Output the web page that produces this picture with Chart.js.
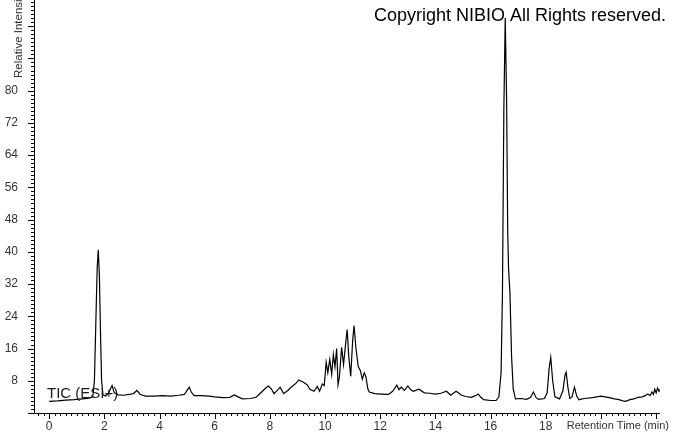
<!DOCTYPE html>
<html>
<head>
<meta charset="utf-8">
<script src="https://cdn.jsdelivr.net/npm/chart.js@4"></script>
<style>
    body { margin: 0; background: #fff; }
</style>
</head>
<body>
<canvas id="ticChart" width="673" height="433"></canvas>
<script>
// Retention time (min) and relative intensity
const retentionTimes = [
    0.0, 0.3, 0.6, 0.9, 1.2, 1.45, 1.58, 1.64, 1.69, 1.74, 1.78, 1.82, 1.86, 1.9, 1.95,
    2.05, 2.15, 2.28, 2.36, 2.5, 2.7, 2.9, 3.05, 3.18, 3.3, 3.5, 3.8, 4.1, 4.4, 4.7, 4.9,
    5.0, 5.08, 5.15, 5.25, 5.5, 5.8, 6.0, 6.3, 6.55, 6.7, 6.85, 7.0, 7.3, 7.5, 7.7, 7.85,
    7.95, 8.05, 8.15, 8.25, 8.37, 8.5, 8.65, 8.8, 8.95, 9.05, 9.2, 9.35, 9.45, 9.6, 9.72,
    9.8, 9.9, 9.97, 10.04, 10.1, 10.17, 10.24, 10.3, 10.36, 10.42, 10.47, 10.52, 10.6,
    10.67, 10.75, 10.8, 10.86, 10.93, 11.0, 11.05, 11.12, 11.2, 11.28, 11.35, 11.42, 11.48,
    11.55, 11.6, 11.8, 12.04, 12.3, 12.45, 12.6, 12.68, 12.76, 12.88, 13.0, 13.1, 13.2,
    13.4, 13.6, 13.8, 14.0, 14.2, 14.4, 14.55, 14.75, 14.95, 15.1, 15.3, 15.45, 15.55,
    15.65, 15.75, 16.0, 16.2, 16.3, 16.38, 16.43, 16.48, 16.53, 16.58, 16.62, 16.65, 16.7,
    16.76, 16.82, 16.9, 17.1, 17.3, 17.45, 17.55, 17.65, 17.75, 17.95, 18.05, 18.12, 18.18,
    18.25, 18.33, 18.5, 18.62, 18.7, 18.74, 18.8, 18.87, 18.95, 19.04, 19.12, 19.2, 19.4,
    19.7, 20.0, 20.3, 20.5, 20.65, 20.8, 20.9, 21.05, 21.2, 21.35, 21.5, 21.6, 21.7, 21.78,
    21.85, 21.9, 21.95, 22.0, 22.05, 22.1, 22.13
];
const intensities = [
    2.9, 3.0, 3.2, 3.3, 3.5, 3.7, 4.0, 8, 22, 36, 40.5, 34, 20, 8, 4.5,
    4.2, 5.0, 6.8, 5.0, 4.5, 4.4, 4.6, 4.8, 5.6, 4.6, 4.2, 4.2, 4.3, 4.2, 4.4, 4.6,
    5.6, 6.4, 5.2, 4.3, 4.3, 4.2, 4.0, 3.8, 3.9, 4.5, 4.0, 3.5, 3.6, 3.9, 5.2, 6.2,
    6.7, 6.0, 4.8, 5.5, 6.4, 4.8, 5.6, 6.6, 7.4, 8.2, 7.7, 7.0, 5.9, 5.4, 6.6,
    5.4, 7.2, 6.8, 12.6, 10.0, 13.3, 9.6, 14.5, 11.5, 16, 7.0, 9.0, 16.3,
    12, 17.5, 20.7, 14, 9.1, 18, 21.7, 16, 11.6, 10.5, 8.4, 10.0, 9.0,
    6.0, 5.2, 4.8, 4.7, 4.6, 5.4, 6.9, 5.8, 6.4, 5.6, 6.7, 5.8, 5.4,
    5.9, 5.0, 4.9, 4.7, 4.9, 5.4, 4.4, 5.4, 4.4, 4.1, 3.9, 4.3, 4.7,
    3.9, 3.3, 3.1, 3.1, 4.0, 10, 30, 75, 98, 78, 45, 36, 30,
    14, 6, 3.5, 3.6, 3.4, 3.9, 5.2, 3.8, 3.4, 3.6, 5, 11, 13.8,
    8, 4.0, 3.5, 5.5, 9.5, 10.1, 6.5, 3.6, 4.0, 6.4, 4.2, 3.3, 3.6,
    3.8, 4.2, 3.8, 3.5, 3.3, 3.0, 2.9, 3.3, 3.5, 3.9, 4.0, 4.3, 4.7, 4.3,
    5.2, 4.6, 5.9, 5.0, 6.2, 5.4, 5.8
];
const yLabelStep = 8;
const yLabelMax = 80;
const xLabelStep = 2;
const xLabelMax = 18;

const points = retentionTimes.map((t, i) => ({ x: t, y: intensities[i] }));
const labelFont = { family: "'Liberation Sans', Arial, sans-serif", size: 12 };

// axis lines, minor/major tick marks and the free text
const decorations = {
    id: 'decorations',
    afterDraw(chart) {
        const ctx = chart.ctx;
        const xs = chart.scales.x;
        const ys = chart.scales.y;
        const area = chart.chartArea;
        ctx.save();
        ctx.strokeStyle = '#000';
        ctx.lineWidth = 1;
        ctx.beginPath();
        ctx.moveTo(area.left + 0.5, area.top);
        ctx.lineTo(area.left + 0.5, area.bottom + 0.5);
        ctx.lineTo(area.right, area.bottom + 0.5);
        for (let v = 0; v <= ys.max; v++) {
            const y = Math.round(ys.getPixelForValue(v)) + 0.5;
            const len = v % yLabelStep === 0 ? 6 : 3;
            ctx.moveTo(area.left - len, y);
            ctx.lineTo(area.left, y);
        }
        for (let i = -2; i / 5 <= xs.max; i++) {
            const x = Math.round(xs.getPixelForValue(i / 5)) + 0.5;
            const len = i % 10 === 0 ? 6 : 3;
            ctx.moveTo(x, area.bottom);
            ctx.lineTo(x, area.bottom + len);
        }
        ctx.stroke();

        ctx.fillStyle = '#000';
        ctx.font = "18px 'Liberation Sans', Arial, sans-serif";
        ctx.textAlign = 'right';
        ctx.textBaseline = 'alphabetic';
        ctx.fillText('Copyright NIBIO All Rights reserved.', 666, 21);

        ctx.fillStyle = '#1a1a1a';
        ctx.font = "15px 'Liberation Sans', Arial, sans-serif";
        ctx.textAlign = 'left';
        ctx.fillText('TIC (ESI+)', 47, 398);

        ctx.fillStyle = '#333';
        ctx.font = "11px 'Liberation Sans', Arial, sans-serif";
        ctx.textAlign = 'right';
        ctx.fillText('Retention Time (min)', 669, 429);

        ctx.font = "11.5px 'Liberation Sans', Arial, sans-serif";
        ctx.translate(22, 78);
        ctx.rotate(-Math.PI / 2);
        ctx.textAlign = 'left';
        ctx.fillText('Relative Intensity', 0, 0);
        ctx.restore();
    }
};

const ctx = document.getElementById('ticChart').getContext('2d');
const ticChart = new Chart(ctx, {
    type: 'line',
    data: {
        datasets: [{
            data: points,
            borderColor: '#000',
            borderWidth: 1.2,
            pointRadius: 0,
            tension: 0,
            fill: false
        }]
    },
    options: {
        responsive: false,
        animation: false,
        layout: { padding: { left: 0, right: 13, top: 0, bottom: 0 } },
        plugins: {
            legend: { display: false },
            tooltip: { enabled: false }
        },
        scales: {
            x: {
                type: 'linear',
                min: -0.55,
                max: 22.14,
                grid: { display: false, drawTicks: false },
                border: { display: false },
                afterFit: scale => {
                    scale.height = 20;
                    scale.paddingLeft = 0;
                    scale.paddingRight = 0;
                },
                ticks: {
                    stepSize: xLabelStep,
                    includeBounds: false,
                    autoSkip: false,
                    maxRotation: 0,
                    padding: 6,
                    color: '#333',
                    font: labelFont,
                    callback: v => (v >= 0 && v <= xLabelMax && Math.abs(v % xLabelStep) < 1e-6) ? String(v) : ''
                }
            },
            y: {
                min: 0,
                max: 102.5,
                grid: { display: false, drawTicks: false },
                border: { display: false },
                afterFit: scale => {
                    scale.width = 34;
                    scale.paddingTop = 0;
                    scale.paddingBottom = 0;
                },
                ticks: {
                    stepSize: yLabelStep,
                    includeBounds: false,
                    autoSkip: false,
                    padding: 16,
                    color: '#333',
                    font: labelFont,
                    callback: v => (v > 0 && v <= yLabelMax) ? String(v) : ''
                }
            }
        }
    },
    plugins: [decorations]
});
</script>
</body>
</html>
